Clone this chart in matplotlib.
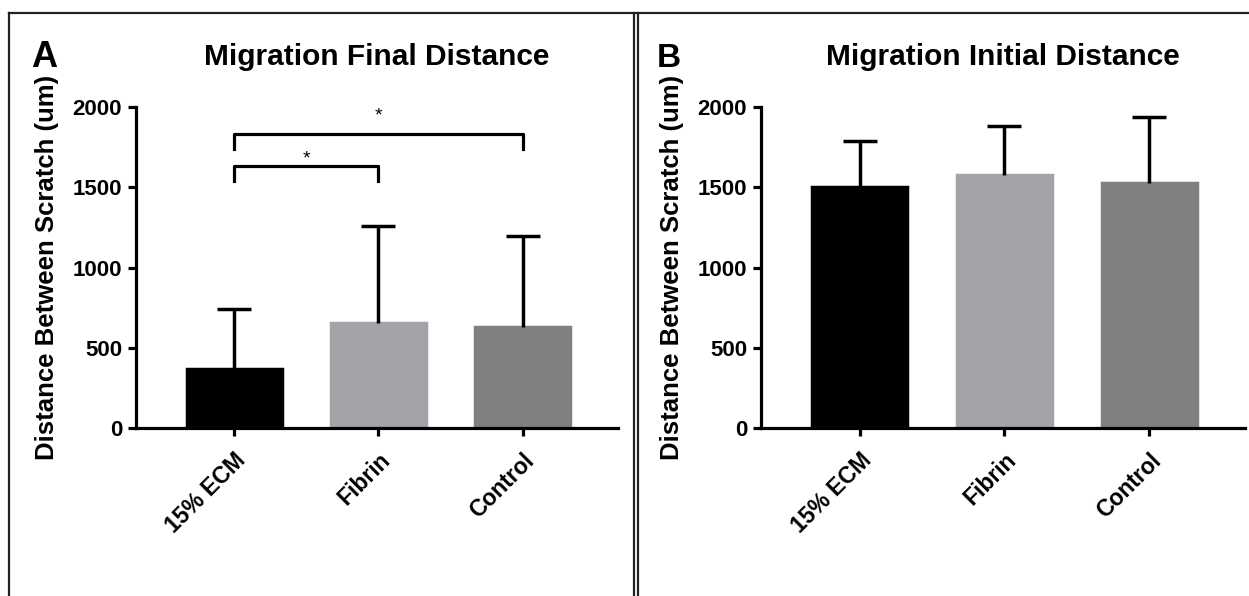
import matplotlib.pyplot as plt
from matplotlib.lines import Line2D

plt.rcParams['font.family'] = ['Liberation Sans', 'DejaVu Sans']
plt.rcParams['font.weight'] = 'bold'

groups = ['15% ECM', 'Fibrin', 'Control']
colors = ['#000000', '#a3a2a7', '#808080']

final_mean = [365, 652, 631]
final_sd = [375, 608, 567]
initial_mean = [1500, 1576, 1528]
initial_sd = [288, 308, 412]

# significance brackets on panel A: (from, to, bar height, leg bottom, star height)
brackets = [(0, 1, 1632, 1538, 1676), (0, 2, 1832, 1740, 1944)]

fig = plt.figure(figsize=(12.49, 5.96), dpi=100)
axA = fig.add_axes([136/1249, 1-428/596, 482/1249, 321/596])
axB = fig.add_axes([761/1249, 1-428/596, 484/1249, 321/596])


def draw_panel(ax, means, sds, title):
    x = range(len(groups))
    ax.bar(x, means, width=0.66, color=colors, edgecolor=colors, linewidth=2.5,
           zorder=2)
    eb = ax.errorbar(x, means, yerr=[[0]*len(sds), sds], fmt='none',
                     ecolor='black', elinewidth=2.5, capsize=12, capthick=2.5,
                     zorder=3)
    eb[1][0].set_visible(False)  # no cap at the bar top, only the upper one
    ax.set_xlim(-0.68, 2.66)
    ax.set_ylim(0, 2000)
    ax.set_yticks([0, 500, 1000, 1500, 2000])
    ax.set_xticks(list(x))
    ax.set_xticklabels(groups, rotation=45, ha='right', rotation_mode='anchor',
                       fontsize=16.5, fontweight='bold')
    ax.tick_params(axis='y', labelsize=16)
    for s in ['top', 'right']:
        ax.spines[s].set_visible(False)
    for s in ['left', 'bottom']:
        ax.spines[s].set_linewidth(2.3)
    ax.tick_params(width=2.3, length=6)
    ax.tick_params(axis='y', pad=4)
    ax.tick_params(axis='x', pad=9)
    ax.set_ylabel('Distance Between Scratch (um)', fontsize=18.5,
                  fontweight='bold', labelpad=10)
    ax.set_title(title, fontsize=21.5, fontweight='bold', pad=30)


draw_panel(axA, final_mean, final_sd, 'Migration Final Distance')
draw_panel(axB, initial_mean, initial_sd, 'Migration Initial Distance')

for i, j, h, leg, star in brackets:
    axA.plot([i, i, j, j], [leg, h, h, leg], color='black', lw=2.3,
             clip_on=False, zorder=4)
    axA.text((i + j) / 2, star, '*', ha='center', va='center', fontsize=14,
             fontweight='normal')

fig.text(31/1249, 1-67/596, 'A', fontsize=26, fontweight='bold')
fig.text(657/1249, 1-67/596, 'B', fontsize=24, fontweight='bold')

# panel frames
fy = 1 - 13/596
for xs, ys in [([9/1249, 1], [fy, fy]),
               ([9/1249, 9/1249], [fy, 0]),
               ([634/1249, 634/1249], [fy, 0]),
               ([638/1249, 638/1249], [fy, 0])]:
    fig.add_artist(Line2D(xs, ys, color='#222222', lw=1.6))

fig.savefig('out.png', dpi=100)
